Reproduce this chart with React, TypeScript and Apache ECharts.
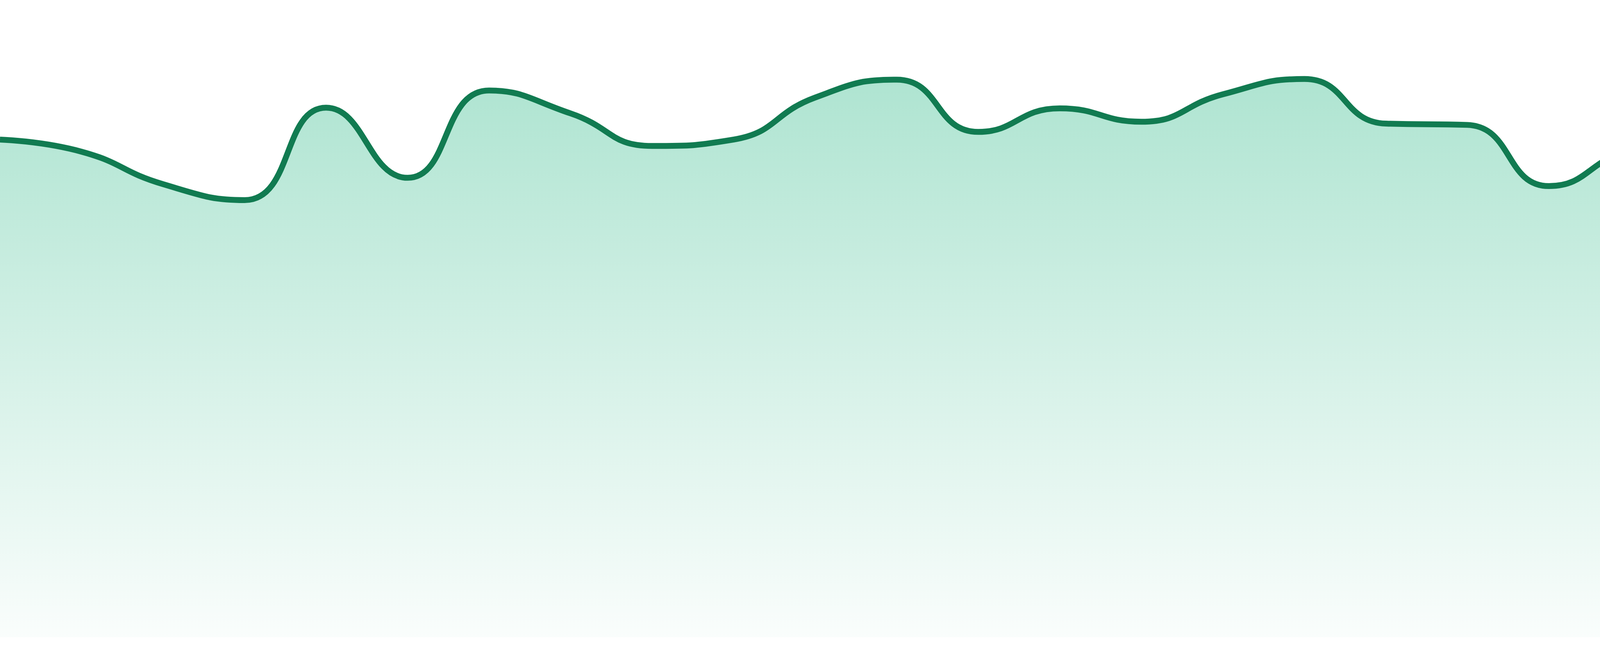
import React, { useEffect, useRef } from "react";
import * as echarts from "echarts";

const categories: string[] = [
  "Day 1", "Day 2", "Day 3", "Day 4", "Day 5", "Day 6", "Day 7", "Day 8",
  "Day 9", "Day 10", "Day 11", "Day 12", "Day 13", "Day 14", "Day 15", "Day 16",
  "Day 17", "Day 18", "Day 19", "Day 20", "Day 21", "Day 22", "Day 23", "Day 24",
];

const values: number[] = [
  78.1, 76.2, 71.1, 68.6, 83.1, 72.1, 85.8, 82.2,
  77.1, 78.1, 84.7, 87.5, 79.3, 83.0, 80.9, 85.2,
  87.6, 80.6, 80.4, 70.8, 76.5, 78.1, 79.2, 70.1,
];

const yMin = 0;
const yMax = 100;

export default function App() {
  const ref = useRef<HTMLDivElement>(null);

  useEffect(() => {
    if (!ref.current) return;
    const chart = echarts.init(ref.current, undefined, { renderer: "svg" });
    chart.setOption({
      animation: false,
      backgroundColor: "#ffffff",
      grid: { left: 0, right: 0, top: 0, bottom: 48, containLabel: false },
      xAxis: {
        type: "category",
        data: categories,
        boundaryGap: false,
        show: false,
      },
      yAxis: {
        type: "value",
        min: yMin,
        max: yMax,
        show: false,
      },
      series: [
        {
          type: "line",
          data: values,
          smooth: true,
          showSymbol: false,
          symbol: "none",
          lineStyle: { color: "#117b51", width: 15 },
          areaStyle: {
            color: new echarts.graphic.LinearGradient(0, 0, 0, 1, [
              { offset: 0, color: "rgba(0,170,110,0.45)" },
              { offset: 1, color: "rgba(0,170,110,0.03)" },
            ]),
          },
        },
      ],
    });
    return () => chart.dispose();
  }, []);

  return (
    <div
      ref={ref}
      style={{ position: "absolute", left: 0, top: 0, width: 4800, height: 1680 }}
    />
  );
}
